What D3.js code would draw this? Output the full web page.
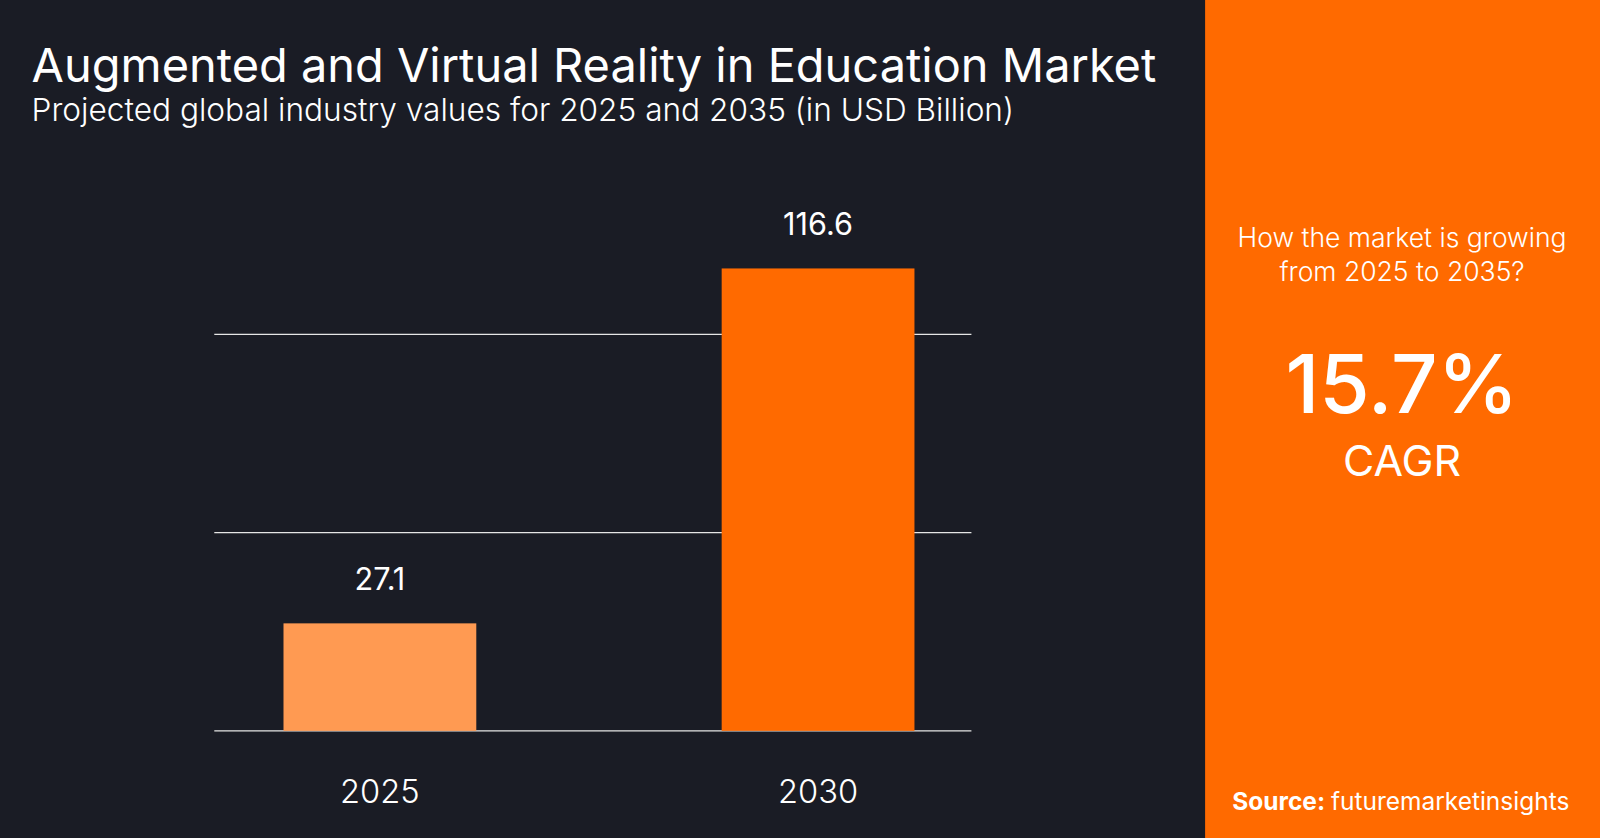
<!DOCTYPE html>
<html>
<head>
<meta charset="utf-8">
<script src="https://cdn.jsdelivr.net/npm/d3@7"></script>
<style>
  html, body { margin: 0; padding: 0; background: #1a1c25; overflow: hidden; }
  text { font-family: Inter, 'Noto Sans', sans-serif; }
</style>
</head>
<body>
<script>
// chart data
var years = ['2025', '2030'];
var values = [27.1, 116.6];
var barColors = ['#ff9a52', '#ff6a00'];
var gridTicks = [0, 50, 100];
var cagr = '15.7%';

// work in the reference's own units, stretched to the window
var W = 1568, H = 821;
var svg = d3.select('body')
  .append('svg')
  .attr('width', 1600)
  .attr('height', 838)
  .attr('viewBox', '0 0 ' + W + ' ' + H)
  .attr('preserveAspectRatio', 'none');

svg.append('rect').attr('width', W).attr('height', H).attr('fill', '#1a1c25');

// titles
svg.append('text')
  .attr('x', 31).attr('y', 80)
  .attr('fill', '#fff').style('font-size', '46px')
  .text('Augmented and Virtual Reality in Education Market');
svg.append('text')
  .attr('x', 31).attr('y', 119)
  .attr('fill', '#fff').style('font-size', '31px').style('font-weight', 300)
  .text('Projected global industry values for 2025 and 2035 (in USD Billion)');

// scales
var x = d3.scaleBand().domain(years).range([222, 952]).paddingInner(0.56).paddingOuter(0.13);
var y = d3.scaleLinear().domain([0, 116.6]).range([716, 263]);

// gridlines
svg.append('g')
  .selectAll('line')
  .data(gridTicks)
  .enter()
  .append('line')
  .attr('x1', 210).attr('x2', 952)
  .attr('y1', function(d) { return y(d); })
  .attr('y2', function(d) { return y(d); })
  .attr('stroke', '#e6e6e6').attr('stroke-width', 1.2);

// bars
var data = years.map(function(d, i) { return {year: d, value: values[i], color: barColors[i]}; });
svg.append('g')
  .selectAll('rect')
  .data(data)
  .enter()
  .append('rect')
  .attr('x', function(d) { return x(d.year); })
  .attr('width', x.bandwidth())
  .attr('y', function(d) { return y(d.value); })
  .attr('height', function(d) { return y(0) - y(d.value); })
  .attr('fill', function(d) { return d.color; });

// value labels
svg.append('g')
  .selectAll('text')
  .data(data)
  .enter()
  .append('text')
  .attr('x', function(d) { return x(d.year) + x.bandwidth() / 2; })
  .attr('y', function(d) { return y(d.value) - 33; })
  .attr('text-anchor', 'middle')
  .attr('fill', '#fff').style('font-size', '30px')
  .text(function(d) { return d.value.toFixed(1); });

// category labels
svg.append('g')
  .selectAll('text')
  .data(years)
  .enter()
  .append('text')
  .attr('x', function(d) { return x(d) + x.bandwidth() / 2; })
  .attr('y', 787)
  .attr('text-anchor', 'middle')
  .attr('fill', '#fff').style('font-size', '32px').style('font-weight', 300)
  .text(function(d) { return d; });

// side panel
svg.append('rect')
  .attr('x', 1181).attr('y', 0).attr('width', W - 1181).attr('height', H)
  .attr('fill', '#ff6a00');
var cx = 1374;
svg.append('text').attr('x', cx).attr('y', 242).attr('text-anchor', 'middle')
  .attr('fill', '#fff').style('font-size', '26px').style('font-weight', 300)
  .text('How the market is growing');
svg.append('text').attr('x', cx).attr('y', 275).attr('text-anchor', 'middle')
  .attr('fill', '#fff').style('font-size', '26px').style('font-weight', 300)
  .text('from 2025 to 2035?');
svg.append('text').attr('x', cx).attr('y', 405).attr('text-anchor', 'middle')
  .attr('fill', '#fff').style('font-size', '80px').style('font-weight', 500)
  .text(cagr);
svg.append('text').attr('x', cx).attr('y', 466).attr('text-anchor', 'middle')
  .attr('fill', '#fff').style('font-size', '42px')
  .text('CAGR');
var src = svg.append('text').attr('x', 1538).attr('y', 794).attr('text-anchor', 'end')
  .attr('fill', '#fff').style('font-size', '24px');
src.append('tspan').style('font-weight', 700).text('Source: ');
src.append('tspan').style('font-weight', 400).text('futuremarketinsights');
</script>
</body>
</html>
